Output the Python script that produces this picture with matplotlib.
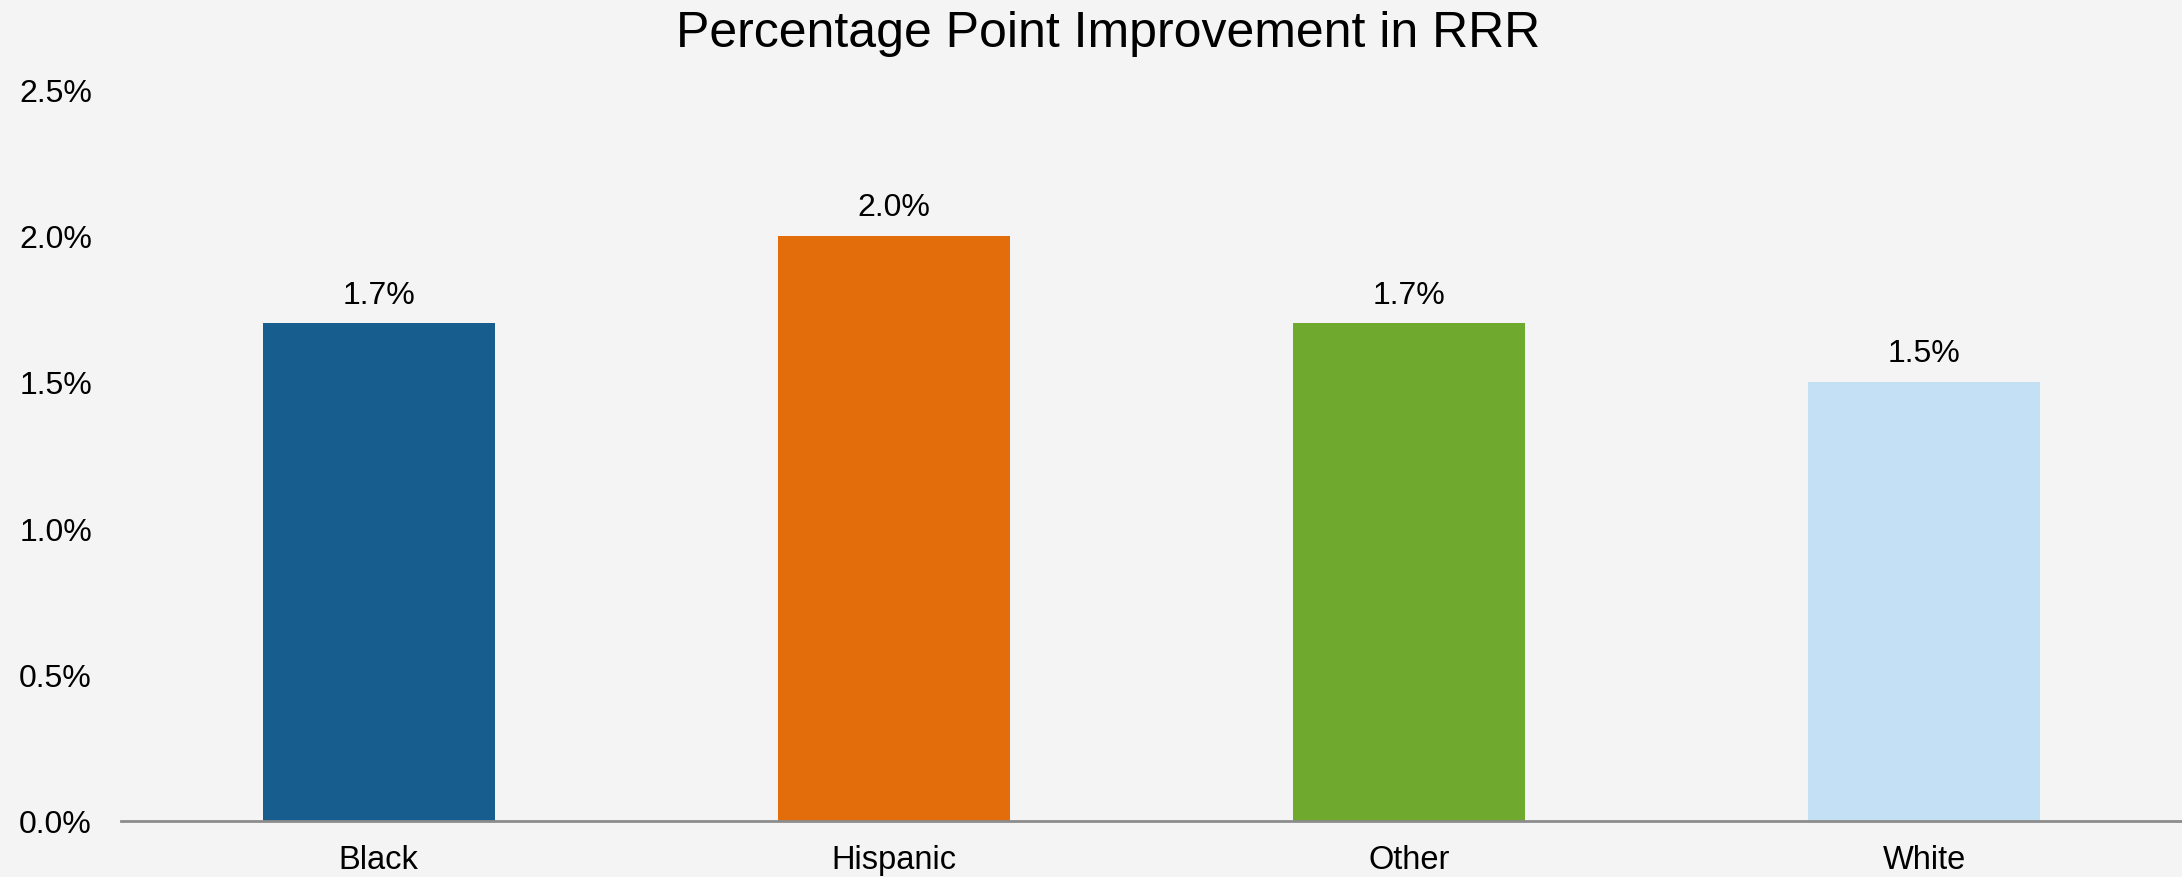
import matplotlib
matplotlib.use("Agg")
import matplotlib.pyplot as plt

# data
groups = ["Black", "Hispanic", "Other", "White"]
improvement = [1.7, 2.0, 1.7, 1.5]
bar_colors = ["#175E8F", "#E36C0B", "#6FAA2F", "#C4E0F4"]
yticks = [0.0, 0.5, 1.0, 1.5, 2.0, 2.5]

plt.rcParams["font.family"] = ["Liberation Sans", "DejaVu Sans"]
bg = "#F4F4F4"

fig = plt.figure(figsize=(21.82, 8.78), dpi=100, facecolor=bg)
ax = fig.add_axes([0.0555, 0.064, 0.9445, 0.833], facecolor=bg)

x = range(len(groups))
bars = ax.bar(x, improvement, width=0.45, color=bar_colors)
for b, v in zip(bars, improvement):
    ax.annotate(f"{v:.1f}%", (b.get_x() + b.get_width() / 2, v),
                xytext=(0, 10), textcoords="offset points",
                ha="center", va="bottom", fontsize=23)

ax.set_xlim(-0.5, 3.5)
ax.set_ylim(0, 2.5)
ax.set_yticks(yticks)
ax.set_yticklabels([f"{t:.1f}%" for t in yticks])
ax.set_xticks(list(x))
ax.set_xticklabels(groups)
ax.tick_params(axis="y", length=0, pad=21, labelsize=23)
ax.tick_params(axis="x", length=0, pad=17, labelsize=23.5)
for s in ["top", "right", "left"]:
    ax.spines[s].set_visible(False)
ax.spines["bottom"].set_color("#8C8C8C")
ax.spines["bottom"].set_linewidth(2)

fig.suptitle("Percentage Point Improvement in RRR", x=0.508, y=0.987,
             va="top", fontsize=36)

fig.savefig("out.png", dpi=100, facecolor=bg)
